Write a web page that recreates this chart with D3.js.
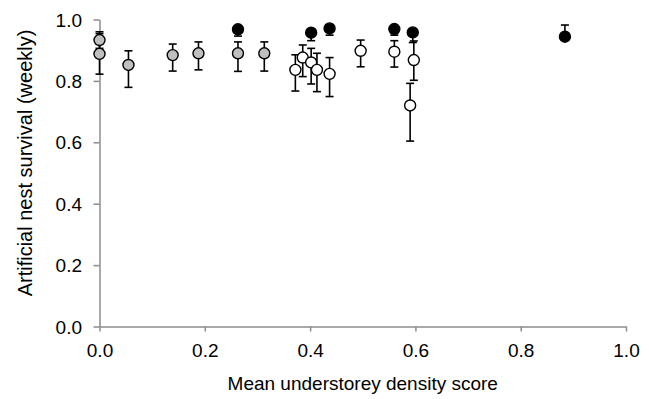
<!DOCTYPE html>
<html>
<head>
<meta charset="utf-8">
<script src="https://cdn.jsdelivr.net/npm/d3@7"></script>
<style>
  body { margin: 0; background: #fff; }
  svg { display: block; font-family: "Liberation Sans", Arial, sans-serif; }
</style>
</head>
<body>
<svg id="chart" width="649" height="399"></svg>
<script>
// grey points
const greyX  = [0.0, 0.0, 0.055, 0.139, 0.188, 0.263, 0.313];
const greyY  = [0.933, 0.888, 0.852, 0.884, 0.890, 0.890, 0.890];
const greyLo = [0.906, 0.822, 0.779, 0.832, 0.836, 0.831, 0.832];
const greyHi = [0.960, 0.954, 0.898, 0.920, 0.927, 0.927, 0.927];

// open (white) points
const openX  = [0.372, 0.386, 0.402, 0.413, 0.437, 0.496, 0.560, 0.597, 0.590];
const openY  = [0.836, 0.876, 0.860, 0.836, 0.823, 0.898, 0.895, 0.868, 0.720];
const openLo = [0.767, 0.814, 0.790, 0.765, 0.749, 0.846, 0.845, 0.802, 0.604];
const openHi = [0.885, 0.917, 0.906, 0.890, 0.876, 0.933, 0.931, 0.930, 0.792];

// black points
const blackX  = [0.263, 0.402, 0.437, 0.560, 0.595, 0.884];
const blackY  = [0.968, 0.957, 0.971, 0.969, 0.958, 0.944];
const blackLo = [0.946, 0.931, 0.949, 0.949, 0.925, 0.944];
const blackHi = [0.968, 0.957, 0.971, 0.969, 0.958, 0.982];

const xTicks = [0, 0.2, 0.4, 0.6, 0.8, 1.0];
const yTicks = [0, 0.2, 0.4, 0.6, 0.8, 1.0];

const xTitle = 'Mean understorey density score';
const yTitle = 'Artificial nest survival (weekly)';

const margin = { top: 19.5, right: 23, bottom: 72.5, left: 99.5 };
const width = 649 - margin.left - margin.right;
const height = 399 - margin.top - margin.bottom;

const svg = d3.select('#chart');
const g = svg.append('g').attr('transform', `translate(${margin.left},${margin.top})`);

const x = d3.scaleLinear().domain([0, 1]).range([0, width]);
const y = d3.scaleLinear().domain([0, 1]).range([height, 0]);

const axisColor = '#8c8c8c';

// axes
const xAxis = g.append('g')
  .attr('transform', `translate(0,${height})`)
  .call(d3.axisBottom(x).tickValues(xTicks).tickFormat(d3.format('.1f')).tickSizeInner(5).tickSizeOuter(0));
const yAxis = g.append('g')
  .call(d3.axisLeft(y).tickValues(yTicks).tickFormat(d3.format('.1f')).tickSizeInner(6).tickSizeOuter(0));

[xAxis, yAxis].forEach(a => {
  a.select('.domain').attr('stroke', axisColor).attr('stroke-width', 1.5);
  a.selectAll('.tick line').attr('stroke', axisColor).attr('stroke-width', 1.5);
  a.selectAll('.tick text').attr('fill', '#000').style('font-size', '19px')
    .style('font-family', '"Liberation Sans", Arial, sans-serif');
});
xAxis.selectAll('.tick text').attr('dy', null).attr('y', 30.5);
yAxis.selectAll('.tick text').attr('x', -17.5).attr('dy', '0.35em');

// titles
svg.append('text')
  .attr('x', margin.left + width / 2)
  .attr('y', 390)
  .attr('text-anchor', 'middle')
  .style('font-size', '19px')
  .text(xTitle);

svg.append('text')
  .attr('transform', `translate(32,163) rotate(-90)`)
  .attr('text-anchor', 'middle')
  .style('font-size', '20px')
  .text(yTitle);

function drawSeries(xs, ys, los, his, fill) {
  const data = xs.map((d, i) => ({ x: d, y: ys[i], lo: los[i], hi: his[i] }));
  const cap = 4;
  const eb = g.append('g').attr('stroke', '#000').attr('stroke-width', 1.6);
  data.forEach(d => {
    if (d.hi > d.y) {
      eb.append('line').attr('x1', x(d.x)).attr('x2', x(d.x)).attr('y1', y(d.y)).attr('y2', y(d.hi));
      eb.append('line').attr('x1', x(d.x) - cap).attr('x2', x(d.x) + cap).attr('y1', y(d.hi)).attr('y2', y(d.hi));
    }
    if (d.lo < d.y) {
      eb.append('line').attr('x1', x(d.x)).attr('x2', x(d.x)).attr('y1', y(d.y)).attr('y2', y(d.lo));
      eb.append('line').attr('x1', x(d.x) - cap).attr('x2', x(d.x) + cap).attr('y1', y(d.lo)).attr('y2', y(d.lo));
    }
  });
  g.append('g')
    .selectAll('circle')
    .data(data)
    .enter()
    .append('circle')
    .attr('cx', d => x(d.x))
    .attr('cy', d => y(d.y))
    .attr('r', 5.5)
    .attr('fill', fill)
    .attr('stroke', '#000')
    .attr('stroke-width', 1.4);
}

drawSeries(greyX, greyY, greyLo, greyHi, '#bfbfbf');
drawSeries(openX, openY, openLo, openHi, '#ffffff');
drawSeries(blackX, blackY, blackLo, blackHi, '#000000');
</script>
</body>
</html>
